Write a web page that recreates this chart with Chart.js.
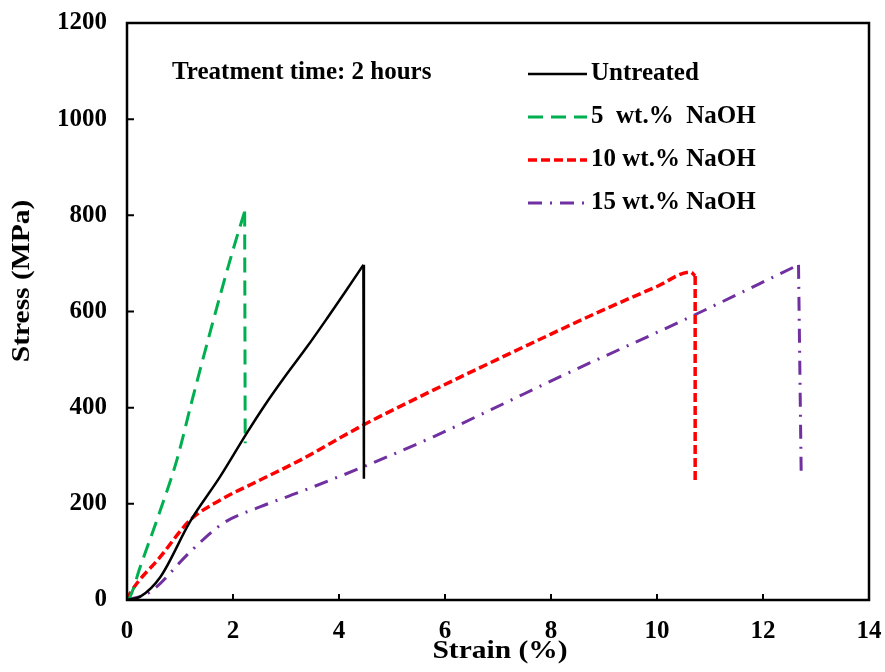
<!DOCTYPE html>
<html>
<head>
<meta charset="utf-8">
<script src="https://cdn.jsdelivr.net/npm/chart.js@4/dist/chart.umd.min.js"></script>
<style>
  html, body { margin: 0; padding: 0; background: #fff; }
  #wrap { width: 885px; height: 672px; position: relative; }
</style>
</head>
<body>
<div id="wrap"><canvas id="c" width="885" height="672"></canvas></div>
<script>
// Stress–strain curves of fibres after 2 h alkali treatment
const seriesNames = ['Untreated', '5  wt.%  NaOH', '10 wt.% NaOH', '15 wt.% NaOH'];
const noteText = 'Treatment time: 2 hours';

// Each curve: loading branch, then the final point marks the fracture drop
const untreatedStrain = [0, 0.25, 0.63, 1.19, 1.76, 2.26, 2.6, 2.95, 3.4, 3.77, 4.1, 4.46, 4.47];
const untreatedStress = [0, 7, 48, 163, 257, 347, 405, 460, 527, 585, 638, 697, 252];

const naoh5Strain = [0, 0.06, 0.25, 0.63, 0.94, 1.23, 1.6, 2.0, 2.22, 2.23];
const naoh5Stress = [0, 7, 69, 187, 291, 416, 570, 728, 808, 326];

const naoh10Strain = [0, 0.06, 0.63, 1.19, 1.76, 2.52, 3.27, 4.46, 5.79, 6.98, 8.0, 9.0, 10.0, 10.63, 10.72, 10.72];
const naoh10Stress = [0, 14, 90, 166, 208, 250, 291, 364, 437, 500, 553, 604, 652, 682, 674, 245];

const naoh15Strain = [0, 0.44, 1.19, 1.82, 2.52, 3.27, 4.46, 5.79, 6.89, 8.3, 10.5, 12.67, 12.72];
const naoh15Stress = [0, 17, 100, 160, 194, 225, 277, 340, 397, 471, 582, 697, 268];

const xTicks = [0, 2, 4, 6, 8, 10, 12, 14];
const yTicks = [0, 200, 400, 600, 800, 1000, 1200];

const colors = ['#000000', '#00B050', '#FF0000', '#7030A0'];
const dashes = [[], [15, 8], [9, 4], [14, 8, 2, 8]];
const widths = [2.5, 3, 3.5, 3];

function pairs(xs, ys) { return xs.map((x, i) => ({ x: x, y: ys[i] })); }
const seriesData = [
  pairs(untreatedStrain, untreatedStress),
  pairs(naoh5Strain, naoh5Stress),
  pairs(naoh10Strain, naoh10Stress),
  pairs(naoh15Strain, naoh15Stress)
];

// smooth loading branch + straight vertical fracture segment
const datasets = [];
seriesData.forEach((d, i) => {
  const common = {
    borderColor: colors[i], borderWidth: widths[i], borderDash: dashes[i],
    pointRadius: 0, fill: false
  };
  datasets.push(Object.assign({ label: seriesNames[i], data: d.slice(0, -1),
    cubicInterpolationMode: 'monotone' }, common));
  datasets.push(Object.assign({ label: seriesNames[i] + ' fracture', data: d.slice(-2),
    tension: 0 }, common));
});

const serif = "'Liberation Serif', 'Times New Roman', serif";

function stretchedText(ctx, text, x, y, sx) {
  ctx.save();
  ctx.translate(x, y);
  ctx.scale(sx, 1);
  ctx.fillText(text, 0, 0);
  ctx.restore();
}

// Frame, inward tick marks, axis titles, note and legend
const decorations = {
  id: 'decorations',
  afterDraw(chart) {
    const ctx = chart.ctx;
    const a = chart.chartArea;
    const xs = chart.scales.x, ys = chart.scales.y;
    ctx.save();
    ctx.strokeStyle = '#000';
    ctx.lineWidth = 2.5;
    ctx.setLineDash([]);
    ctx.strokeRect(a.left, a.top, a.right - a.left, a.bottom - a.top);
    ctx.lineWidth = 2;
    ctx.beginPath();
    xTicks.slice(1, -1).forEach(v => {
      const px = xs.getPixelForValue(v);
      ctx.moveTo(px, a.bottom); ctx.lineTo(px, a.bottom - 6);
    });
    yTicks.slice(1, -1).forEach(v => {
      const py = ys.getPixelForValue(v);
      ctx.moveTo(a.left, py); ctx.lineTo(a.left + 7, py);
    });
    ctx.stroke();

    ctx.fillStyle = '#000';
    ctx.textBaseline = 'middle';
    // axis titles
    ctx.font = 'bold 25px ' + serif;
    ctx.textAlign = 'center';
    stretchedText(ctx, 'Strain (%)', 500, 652, 1.18);
    ctx.save();
    ctx.translate(23, 281);
    ctx.rotate(-Math.PI / 2);
    stretchedText(ctx, 'Stress (MPa)', 0, 0, 1.18);
    ctx.restore();

    // note
    ctx.font = 'bold 25px ' + serif;
    ctx.textAlign = 'left';
    ctx.fillText(noteText, 172, 73);

    // legend
    const rowsY = [74, 117, 160, 203];
    seriesNames.forEach((name, i) => {
      const y = rowsY[i];
      ctx.strokeStyle = colors[i];
      ctx.lineWidth = widths[i];
      ctx.setLineDash(dashes[i]);
      ctx.beginPath();
      ctx.moveTo(528, y); ctx.lineTo(587, y);
      ctx.stroke();
      ctx.setLineDash([]);
      ctx.fillStyle = '#000';
      ctx.fillText(name, 591, y);
    });
    ctx.restore();
  }
};

const tickFont = { family: serif, size: 25, weight: 'bold' };

new Chart(document.getElementById('c'), {
  type: 'line',
  data: { datasets: datasets },
  options: {
    responsive: false,
    animation: false,
    layout: { padding: { top: 23, right: 16, left: 0, bottom: 0 } },
    plugins: { legend: { display: false }, tooltip: { enabled: false } },
    scales: {
      x: {
        type: 'linear',
        min: 0, max: 14,
        afterBuildTicks: s => { s.ticks = xTicks.map(v => ({ value: v })); },
        afterFit: s => { s.height = 72; s.paddingLeft = 0; s.paddingRight = 0; },
        grid: { display: false, drawTicks: false },
        border: { display: false },
        ticks: { color: '#000', padding: 17, font: tickFont, callback: v => String(v) }
      },
      y: {
        type: 'linear',
        min: 0, max: 1200,
        afterBuildTicks: s => { s.ticks = yTicks.map(v => ({ value: v })); },
        afterFit: s => { s.width = 127; s.paddingTop = 0; s.paddingBottom = 0; },
        grid: { display: false, drawTicks: false },
        border: { display: false },
        ticks: { color: '#000', padding: 20, font: tickFont, callback: v => String(v) }
      }
    }
  },
  plugins: [decorations]
});
</script>
</body>
</html>
